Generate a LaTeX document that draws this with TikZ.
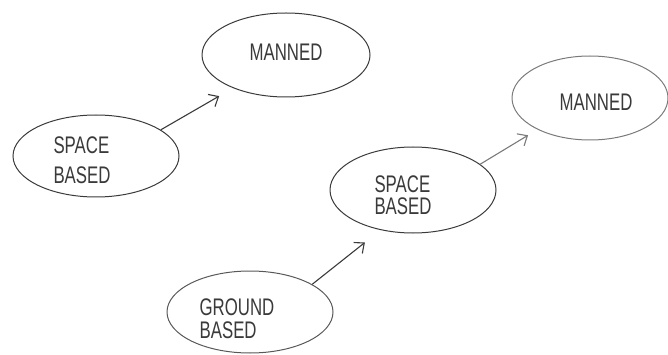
\documentclass[tikz,border=0pt]{standalone}
\usepackage{fontspec}
\setmainfont{Liberation Sans}[FakeStretch=0.7]
\usetikzlibrary{shapes.geometric,arrows.meta}
\definecolor{ink}{HTML}{3A3A3A}
\definecolor{faint}{HTML}{7A7A7A}
\definecolor{mid}{HTML}{585858}
\tikzset{
  oval/.style={draw=ink, ellipse, line width=1pt, inner sep=0pt},
  lbl/.style={text=ink, inner sep=0pt, align=left, font=\fontsize{24}{30}\selectfont},
  arr/.style={draw=ink, line width=1.1pt, -{Straight Barb[length=8pt,width=14pt,line width=1.1pt]}},
}
\begin{document}
\begin{tikzpicture}[x=1pt,y=-1pt]
\useasboundingbox (0,0) rectangle (668,355);
% ellipses
\node[oval, minimum width=168pt, minimum height=84pt] (m1) at (286,55) {};
\node[oval, minimum width=166pt, minimum height=82pt] (sb1) at (96,156) {};
\node[oval, draw=faint, minimum width=156pt, minimum height=84pt] (m2) at (590,98) {};
\node[oval, minimum width=166pt, minimum height=86pt] (sb2) at (413,190) {};
\node[oval, draw=mid, minimum width=166pt, minimum height=82pt] (gb) at (250,312) {};
% labels
\node[lbl] (m1t) at (286,52) {MANNED};
\node[lbl] (sb1t) at (82,160) {SPACE\\BASED};
\node[lbl] (m2t) at (596,102) {MANNED};
\node[lbl, font=\fontsize{24}{22}\selectfont] (sb2t) at (403,195) {SPACE\\BASED};
\node[lbl, font=\fontsize{24}{23}\selectfont] (gbt) at (237,319) {GROUND\\BASED};
% connectors
\draw[arr] (sb1.22) -- (m1.212.5) [shorten >=16pt];
\draw[arr, draw=faint] (sb2.21) -- (m2.211) [shorten >=11pt];
\draw[arr] (gb.24) -- (sb2.231) [shorten >=20pt];
\end{tikzpicture}
\end{document}
